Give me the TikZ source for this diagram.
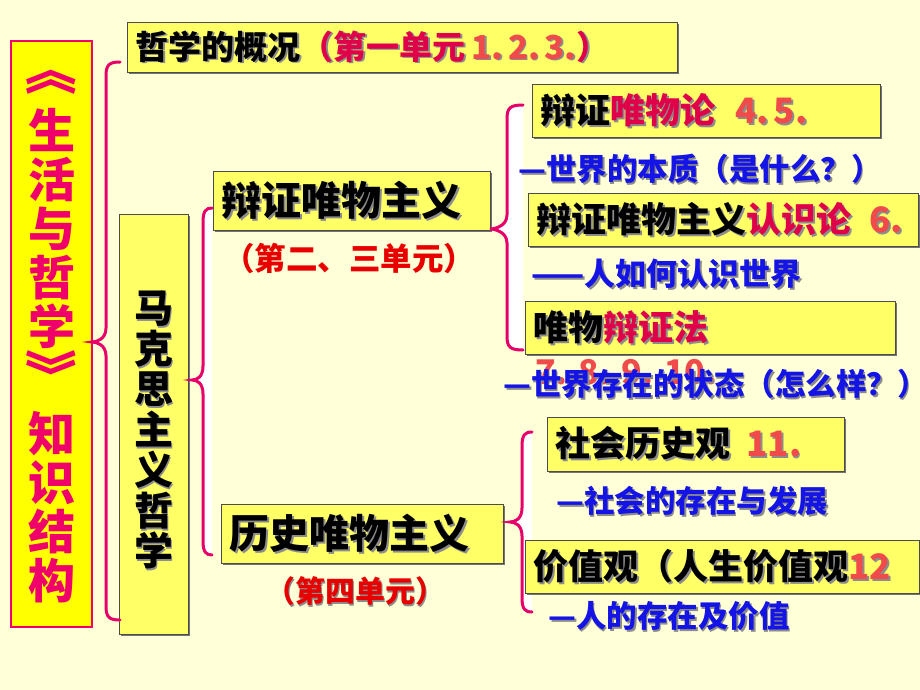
\documentclass[tikz,border=0pt]{standalone}
\usepackage{fontspec}
\setmainfont{Noto Sans CJK SC}
\usetikzlibrary{shadows}
\definecolor{bg}{HTML}{FFFFD8}
\definecolor{boxy}{HTML}{FFFF66}
\definecolor{ttly}{HTML}{FFFF00}
\definecolor{hotp}{HTML}{F0006A}
\definecolor{crim}{HTML}{E0004A}
\definecolor{numc}{HTML}{F04A4A}
\definecolor{redl}{HTML}{E80000}
\definecolor{bluel}{HTML}{1414E6}
\definecolor{brcol}{HTML}{E8006A}
\newcommand\fsz[1]{\fontsize{#1}{#1}\selectfont}
\newcommand\shd[1]{\leavevmode\rlap{\hspace{1.8pt}\raisebox{-1.8pt}{\color{black!45}#1}}#1}
% brace: xend ytop xv xc yc ybot style
\newcommand\brcshape[7]{\path[#7] (#1,#2) .. controls (#3+3,#2) and (#3,#2+3) .. (#3,#2+14) -- (#3,#5-14) .. controls (#3,#5-3) and (#4+5,#5) .. (#4,#5) .. controls (#4+5,#5) and (#3,#5+3) .. (#3,#5+14) -- (#3,#6-14) .. controls (#3,#6-3) and (#3+3,#6) .. (#1,#6);}
\tikzset{
  box/.style={draw=black!70, line width=0.8pt, fill=boxy, anchor=north west, inner xsep=8pt, inner ysep=0pt, align=left, font=\bfseries,
    drop shadow={shadow xshift=2pt, shadow yshift=-2pt, fill=black!55, opacity=1}},
  brc/.style={draw=brcol, line width=3pt, line cap=round},
  blab/.style={anchor=west, inner sep=0pt, text=bluel, font=\bfseries\fsz{30.5}},
  rlab/.style={inner sep=0pt, text=redl, font=\bfseries\fsz{31.5}},
  ttltext/.style={inner sep=0pt, align=center, text=hotp, font=\bfseries\fontsize{47}{49}\selectfont},
  ttlbr/.style={inner sep=0pt, rotate=-90, text=hotp, font=\bfseries\fsz{52}},
}
\begin{document}
\begin{tikzpicture}[x=1pt,y=-1pt]
\useasboundingbox (0,0) rectangle (920,690);
\fill[bg] (0,0) rectangle (920,690);
% white interiors of braces
\brcshape{212}{208}{203}{192}{380}{555}{fill=white}
\brcshape{523}{105}{507}{490}{229}{350}{fill=white}
\brcshape{532}{432}{522}{510}{522}{612}{fill=white}
% title
\node[draw=hotp, line width=1.2pt, fill=ttly, minimum width=81pt, minimum height=586pt, inner sep=0pt] (ttl) at (51.5,334) {};
\node[ttlbr] (tlb) at (51.5,70) {《};
\node[ttltext] (t1) at (51.5,228) {生\\活\\与\\哲\\学};
\node[ttlbr] (trb) at (51.5,375) {》};
\node[ttltext] (t2) at (51.5,507) {知\\识\\结\\构};
% top box
\node[box, text width=534pt, minimum height=50pt] (gk) at (127,22) {\fsz{33}\shd{哲学的概况}{\color{crim}\shd{（第一单元}\hspace{6pt}{\color{numc}\shd{1. 2. 3.}}\shd{）}}};
% marxism box
\node[box, minimum width=69pt, minimum height=420pt] (mk) at (119,214) {};
\node[inner sep=0pt, align=center, font=\bfseries\fontsize{39}{40.5}\selectfont] (mkt) at (153.5,431) {\shd{马}\\\shd{克}\\\shd{思}\\\shd{主}\\\shd{义}\\\shd{哲}\\\shd{学}};
% second level
\node[box, text width=261pt, minimum height=59pt] (bz) at (213,171) {\fsz{40}\shd{辩证唯物主义}};
\node[rlab] (bzl) at (349,258) {（第二、三单元）};
\node[box, text width=266pt, minimum height=59pt] (ls) at (221,504) {\fsz{40}\shd{历史唯物主义}};
\node[rlab, font=\bfseries\fsz{30}] (lsl) at (355,592) {\shd{（第四单元）}};
% third level
\node[box, text width=332pt, minimum height=53pt] (b1) at (532,84) {\fsz{35}\shd{辩证}{\color{crim}\shd{唯物论}}\hspace{20pt}{\color{numc}\shd{4. 5.}}};
\node[blab, font=\bfseries\fsz{30.5}] (l1) at (518,170) {\shd{—世界的本质（是什么？）}};
\node[box, text width=374pt, minimum height=53pt] (b2) at (528,193) {\fsz{35}\shd{辩证唯物主义}{\color{crim}\shd{认识论}}\hspace{18pt}{\color{numc}\shd{6.}}};
\node[blab, font=\bfseries\fsz{31}] (l2) at (531,275) {\shd{——人如何认识世界}};
\node[box, text width=354pt, minimum height=53pt] (b3) at (525,301) {\fsz{35}\shd{唯物}{\color{crim}\shd{辩证法}}};
\node[anchor=base west, inner sep=0pt, text=numc, font=\bfseries\fsz{34}] (n3) at (535,384) {7. 8. 9. 10.};
\node[blab, font=\bfseries\fsz{30.5}] (l3) at (503,385) {\shd{—世界存在的状态（怎么样？）}};
\node[box, text width=281pt, minimum height=54pt] (b4) at (547,417) {\fsz{35}\shd{社会历史观}\hspace{16pt}{\color{numc}\shd{11.}}};
\node[blab] (l4) at (556,502) {\shd{—社会的存在与发展}};
\node[box, text width=378pt, minimum height=53pt] (b5) at (525,540) {\fsz{35}\shd{价值观（人生价值观}{\color{numc}\shd{12}}};
\node[blab] (l5) at (548,617) {\shd{—人的存在及价值}};
% braces
\brcshape{120}{62}{106}{92}{342}{620}{brc}
\brcshape{212}{208}{203}{192}{380}{555}{brc}
\brcshape{523}{105}{507}{490}{229}{350}{brc}
\brcshape{532}{432}{522}{510}{522}{612}{brc}
\end{tikzpicture}
\end{document}
